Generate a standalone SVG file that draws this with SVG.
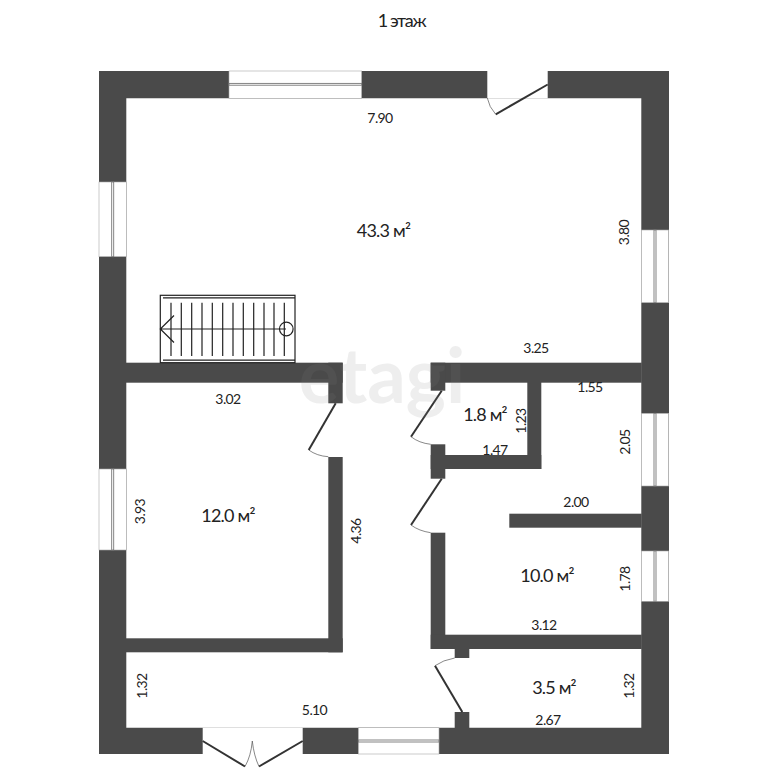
<svg xmlns="http://www.w3.org/2000/svg" width="768" height="768" viewBox="0 0 768 768">
<style>
.w{fill:#4a4a4a}
.win{fill:#fff;stroke:#a8a8a8;stroke-width:.6}
.m{fill:#fff;stroke:#777;stroke-width:.9}
.leaf{fill:none;stroke:#333;stroke-width:2}
.arc{fill:none;stroke:#555;stroke-width:.7}
.st{stroke:#222;stroke-width:1.2;fill:none}
text{font-family:Lato,"Open Sans","Liberation Sans",sans-serif;fill:#222;text-anchor:middle}
.d{font-size:14px;letter-spacing:-.6px}
.a{font-size:18px;letter-spacing:-.8px}
</style>
<rect width="768" height="768" fill="#fff"/>
<text x="401.500" y="27" font-size="18" letter-spacing="-1.3">1 этаж</text>
<g id="walls">
<path class="w" fill-rule="evenodd" d="M99 71H669V754H99ZM126.300 98.300V727.700H641.300V98.300Z"/>
<rect class="w" x="126" y="362.700" width="216.700" height="20"/>
<rect class="w" x="328.300" y="362.700" width="14.400" height="40.600"/>
<rect class="w" x="328.300" y="457" width="14.400" height="195.300"/>
<rect class="w" x="126" y="638.300" width="216.700" height="14"/>
<rect class="w" x="430.700" y="362.700" width="211" height="20"/>
<rect class="w" x="430.700" y="362.700" width="14.600" height="28"/>
<rect class="w" x="430.700" y="444.300" width="14.600" height="34.400"/>
<rect class="w" x="430.700" y="455" width="110.600" height="14"/>
<rect class="w" x="527.300" y="382" width="14" height="87"/>
<rect class="w" x="509.300" y="513.700" width="132.300" height="14"/>
<rect class="w" x="430.700" y="532.700" width="14.600" height="116.300"/>
<rect class="w" x="430.700" y="634.700" width="211" height="14.300"/>
<rect class="w" x="454.700" y="649" width="14.600" height="9"/>
<rect class="w" x="454.700" y="712" width="14.600" height="16"/>
</g>
<g id="windows">
<rect class="win" x="229" y="71" width="132.700" height="27.300"/><rect class="m" x="229" y="83.400" width="132.700" height="1.800"/>
<rect class="win" x="99" y="182" width="27.300" height="74.700"/><rect class="m" x="111.700" y="182" width="2" height="74.700"/>
<rect class="win" x="99" y="469" width="27.300" height="81"/><rect class="m" x="111.700" y="469" width="2" height="81"/>
<rect class="win" x="641.300" y="230" width="27.400" height="72.700"/><rect class="m" x="654" y="230" width="2" height="72.700"/>
<rect class="win" x="641.300" y="413.300" width="27.400" height="72.700"/><rect class="m" x="654" y="413.300" width="2" height="72.700"/>
<rect class="win" x="641.300" y="551" width="27.400" height="50.300"/><rect class="m" x="654" y="551" width="2" height="50.300"/>
<rect class="win" x="358.300" y="727.700" width="80.700" height="26.300"/><rect class="m" x="358.300" y="740" width="80.700" height="2"/>
</g>
<g id="doors">
<rect x="487.300" y="71" width="60.400" height="27.300" fill="#fff"/>
<rect x="202.700" y="727.700" width="100" height="40.300" fill="#fff"/>
<path class="leaf" d="M547.700 84.500L495.700 114.300"/><path class="arc" d="M487.300 98Q489 107 495.700 114.300"/>
<path class="leaf" d="M335.700 403.300L308.700 450"/><path class="arc" d="M308.700 450Q317 456 328.300 456.700"/>
<path class="leaf" d="M441.700 390.700L411 436.700"/><path class="arc" d="M411 436.700Q419 443 430.700 444.300"/>
<path class="leaf" d="M441.700 478.700L411 525"/><path class="arc" d="M411 525Q419 531 430.700 532.700"/>
<path class="leaf" d="M462.300 712L435 665.700"/><path class="arc" d="M435 665.700Q443 660 454.700 658"/>
<path class="leaf" d="M202.700 741L245 766.500M302.700 741L259 766.500"/><path class="arc" d="M252.300 741Q251 756 245 766.500M252.300 741Q254 756 259 766.500"/>
</g>
<g id="stairs">
<rect x="160.300" y="295.300" width="134.700" height="67.400" fill="#fff" class="st"/>
<path class="st" d="M163 297.800H295M163 360.200H295"/>
<path class="st" d="M171 302.700V356M181.300 302.700V356M191.700 302.700V356M202 302.700V356M212.300 302.700V356M222.700 302.700V356M233 302.700V356M243.300 302.700V356M253.700 302.700V356M264 302.700V356M274 302.700V356M284.300 302.700V356"/>
<path class="st" d="M160.300 329H286M174 315.500L160.300 329L174 342.500"/>
<circle class="st" cx="286.300" cy="329" r="6.800"/>
</g>
<g id="labels">
<text class="d" x="380" y="123">7.90</text>
<text class="a" x="383.500" y="236.500">43.3 м²</text>
<text class="d" x="536" y="353">3.25</text>
<text class="d" x="228" y="404">3.02</text>
<text class="d" x="590" y="392">1.55</text>
<text class="a" x="485" y="420.500">1.8 м²</text>
<text class="d" x="495" y="455">1.47</text>
<text class="d" x="576" y="506.500">2.00</text>
<text class="a" x="547" y="582.300">10.0 м²</text>
<text class="a" x="228" y="521.500">12.0 м²</text>
<text class="d" x="544" y="630">3.12</text>
<text class="a" x="554" y="694">3.5 м²</text>
<text class="d" x="548" y="725">2.67</text>
<text class="d" x="314.500" y="715">5.10</text>
<text class="d" transform="translate(629 232.500) rotate(-90)">3.80</text>
<text class="d" transform="translate(526 421) rotate(-90)">1.23</text>
<text class="d" transform="translate(630 442) rotate(-90)">2.05</text>
<text class="d" transform="translate(630 579) rotate(-90)">1.78</text>
<text class="d" transform="translate(634 686) rotate(-90)">1.32</text>
<text class="d" transform="translate(147 686) rotate(-90)">1.32</text>
<text class="d" transform="translate(145 511.500) rotate(-90)">3.93</text>
<text class="d" transform="translate(361 531) rotate(-90)">4.36</text>
</g>
<text id="watermark" x="382" y="403" font-size="76" font-weight="700" style="fill:#808080" opacity=".13">etagi</text>
</svg>
